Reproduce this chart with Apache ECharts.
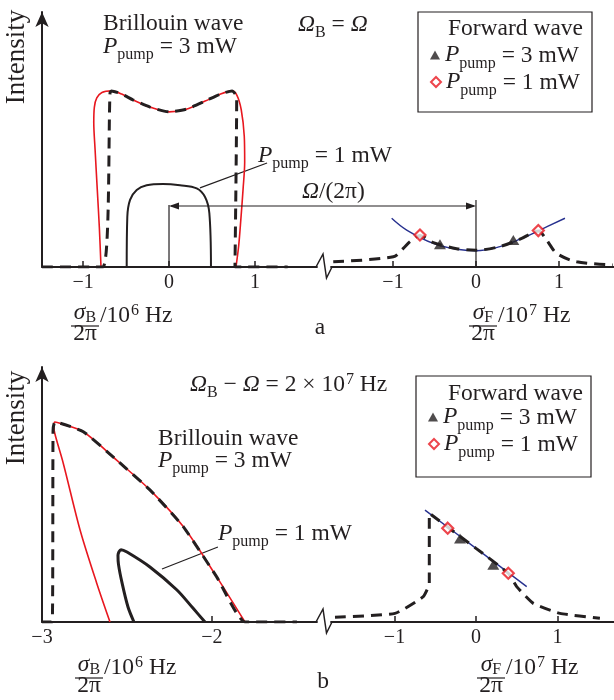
<!DOCTYPE html>
<html><head><meta charset="utf-8">
<script src="https://cdn.jsdelivr.net/npm/echarts@6/dist/echarts.min.js"></script>
<style>html,body{margin:0;padding:0;background:#fff}#c{width:614px;height:700px}</style>
</head><body><div id="c"></div>
<script>
// ===== DATA (panel a: Omega_B = Omega) =====
const aBrilRed3 = [[-0.791,0],[-0.81,1.5],[-0.835,3.0],[-0.86,4.5],[-0.875,5.5],[-0.868,6.1],[-0.84,6.45],[-0.78,6.66],[-0.67,6.72],[-0.55,6.6],[-0.42,6.38],[-0.22,6.1],[0,5.92],[0.2,6.02],[0.42,6.33],[0.6,6.6],[0.733,6.72],[0.79,6.55],[0.84,6.0],[0.875,5.0],[0.88,4.0],[0.862,3.0],[0.835,1.8],[0.81,0.8],[0.779,0]];
const aBrilDash3 = [[-1.477,0],[-0.77,0],[-0.686,6.64],[-0.67,6.72],[-0.55,6.6],[-0.42,6.38],[-0.22,6.1],[0,5.92],[0.2,6.02],[0.42,6.33],[0.6,6.6],[0.733,6.72],[0.787,6.49],[0.767,0],[1.38,0]];
const aBrilOne1 = [[-0.492,0],[-0.485,1.91],[-0.453,2.56],[-0.376,2.94],[-0.26,3.12],[-0.07,3.17],[0.128,3.12],[0.322,3.0],[0.419,2.67],[0.469,2.06],[0.488,0]];
const aFwdFit = [[-1.016,1.86],[-0.835,1.41],[-0.514,0.9],[-0.233,0.676],[0,0.62],[0.289,0.775],[0.53,1.06],[0.771,1.41],[1.072,1.86]];
const aFwdDash = [[-1.72,0.2],[-0.996,0.39],[-0.876,0.71],[-0.795,0.97],[-0.675,1.2],[-0.514,0.93],[-0.233,0.7],[0,0.64],[0.289,0.78],[0.53,1.06],[0.751,1.37],[0.851,1.03],[0.972,0.52],[1.213,0.2],[1.65,0.08]];
const aTri3 = [[-0.434,0.866],[0.45,1.03]];
const aDia1 = [[-0.675,1.22],[0.751,1.39]];
const aRefLeft = [[0,0],[0,2.37]];
const aRefRight = [[0,0],[0,2.56]];
const aLeader = [[0.36,3.02],[1.14,3.97]];
const aArrowY = 2.33;

// ===== DATA (panel b: Omega_B - Omega = 2e7 Hz) =====
const bBrilRed3 = [[-2.6,0],[-2.678,1.48],[-2.776,3.51],[-2.875,6.06],[-2.925,7.2],[-2.93,7.5],[-2.924,7.63],[-2.88,7.55],[-2.757,7.26],[-2.561,6.18],[-2.365,5.04],[-2.169,3.64],[-1.973,1.73],[-1.806,0]];
const bBrilDash3 = [[-3,0],[-2.94,0],[-2.935,7.3],[-2.924,7.63],[-2.757,7.26],[-2.561,6.18],[-2.365,5.04],[-2.169,3.64],[-1.973,1.73],[-1.806,0],[-1.5,0]];
const bBrilOne1 = [[-2.459,0],[-2.494,0.57],[-2.529,1.49],[-2.55,2.2],[-2.553,2.55],[-2.535,2.76],[-2.5,2.67],[-2.365,2.1],[-2.206,1.22],[-2.112,0.53],[-2.041,0]];
const bFwdFit = [[-0.626,4.27],[0,2.81],[0.622,1.35]];
const bFwdDash = [[-1.73,0.18],[-0.994,0.33],[-0.647,0.97],[-0.573,1.48],[-0.573,4.15],[0,2.81],[0.396,1.86],[0.499,1.35],[0.703,0.71],[1.03,0.33],[1.52,0.14]];
const bTri3 = [[-0.196,3.19],[0.212,2.18]];
const bDia1 = [[-0.347,3.58],[0.396,1.86]];
const bLeader = [[-2.294,2.02],[-1.965,2.86]];

// ===== ticks =====
const ticksABril = [-1,0,1];
const ticksAFwd = [-1,0,1];
const ticksBBril = [-3,-2];
const ticksBFwd = [-1,0,1];

// ===== styling =====
const F = "'Liberation Serif','DejaVu Serif','Times New Roman',serif";
const INK = '#231f20', RED = '#e8171f', BLUE = '#27318f';
const FS = 23.5, SS = 16, M = 5;
function richSet(key){
  const base = (extra) => Object.assign({fontFamily:F, fontSize:FS, verticalAlign:'top', padding:[M,0,0,0]}, extra);
  const o = {
    r: base({}),
    i: base({fontStyle:'italic'}),
    s: base({fontSize:SS, padding:[17.25,0,0,0]}),
    s2: base({fontSize:SS, padding:[13.5,0,0,0]}),
    u: base({fontSize:SS, padding:[3.75,0,0,1]})
  };
  for (const k in o) o[k][key] = INK;
  return o;
}
const RE = richSet('color');
const RZ = richSet('fill');

const minusFmt = v => (v < 0 ? '\u2212' + (-v) : String(v));
function xAx(grid, min, max, ticks){
  return {
    type:'value', gridIndex:grid, min, max,
    axisLine:{show:true, onZero:false, lineStyle:{color:INK, width:1.8}},
    axisTick:{show:true, inside:true, length:6, customValues:ticks, lineStyle:{color:INK, width:1.5}},
    axisLabel:{show:true, customValues:ticks, formatter:minusFmt, fontFamily:F, fontSize:20, color:INK, margin:6},
    splitLine:{show:false}
  };
}
function yAx(grid, show){
  return {
    type:'value', gridIndex:grid, min:0, max:9.73, show,
    axisLine:{show:true, onZero:false, symbol:['none','arrow'], symbolSize:[10,15], lineStyle:{color:INK, width:2}},
    axisTick:{show:false}, axisLabel:{show:false}, splitLine:{show:false}
  };
}
function line(data, idx, color, width, type, z, smooth){
  return {type:'line', data, xAxisIndex:idx, yAxisIndex:idx, symbol:'none', smooth:smooth||false,
    lineStyle:{color, width, type:type||'solid', cap:'butt'}, z, silent:true, animation:false};
}
const DASH = [11,7];
function tri(name, data, idx){
  return {type:'scatter', name, data, xAxisIndex:idx, yAxisIndex:idx, symbol:'triangle', symbolSize:[12,10],
    itemStyle:{color:INK}, z:10, animation:false};
}
function dia(name, data, idx){
  return {type:'scatter', name, data, xAxisIndex:idx, yAxisIndex:idx, symbol:'diamond', symbolSize:11,
    itemStyle:{color:'#fff', borderColor:RED, borderWidth:2.2}, z:11, animation:false};
}
const legFmt = n => n === 'P3' ? '{i|P}{s|pump}{r| = 3 mW}' : '{i|P}{s|pump}{r| = 1 mW}';
function leg(name, icon, left, center){
  return {show:true, orient:'vertical', left, top:center - 16.6, padding:0, itemGap:0,
    itemWidth:10, itemHeight: icon === 'triangle' ? 9 : 10, selectedMode:false,
    data:[{name, icon}], formatter:legFmt, textStyle:{rich:RE, color:INK}};
}

const chart = echarts.init(document.getElementById('c'), null, {renderer:'canvas'});
const option = {
  animation:false,
  backgroundColor:'#fff',
  textStyle:{fontFamily:F, color:INK},
  grid:[
    {left:42, top:12, width:275, height:255, outerBoundsMode:'none'},
    {left:331, top:12, width:283, height:255, outerBoundsMode:'none'},
    {left:42, top:367, width:275, height:255, outerBoundsMode:'none'},
    {left:331, top:367, width:283, height:255, outerBoundsMode:'none'}
  ],
  xAxis:[
    xAx(0, -1.477, 1.721, ticksABril),
    xAx(1, -1.747, 1.663, ticksAFwd),
    xAx(2, -3, -1.382, ticksBBril),
    xAx(3, -1.779, 1.693, ticksBFwd)
  ],
  yAxis:[ yAx(0,true), yAx(1,false), yAx(2,true), yAx(3,false) ],
  legend:[
    leg('P3','triangle',430,60), leg('P1','diamond',430,87),
    leg('P3','triangle',428,422), leg('P1','diamond',428,449)
  ],
  series:[
    line(aBrilRed3, 0, RED, 1.6, 'solid', 2, 0.3),
    line(aBrilDash3, 0, INK, 3, DASH, 3, 0.2),
    line(aBrilOne1, 0, INK, 2, 'solid', 3, 0.35),
    line(aRefLeft, 0, INK, 1.2, 'solid', 1),
    line(aLeader, 0, INK, 1.2, 'solid', 1),
    line(aFwdFit, 1, BLUE, 1.4, 'solid', 2, 0.4),
    line(aFwdDash, 1, INK, 3, DASH, 3, 0.3),
    line(aRefRight, 1, INK, 1.2, 'solid', 1),
    tri('P3', aTri3, 1), dia('P1', aDia1, 1),
    line(bBrilRed3, 2, RED, 1.6, 'solid', 2, 0.3),
    line(bBrilDash3, 2, INK, 3, DASH, 3, 0.15),
    line(bBrilOne1, 2, INK, 3, 'solid', 3, 0.3),
    line(bLeader, 2, INK, 1.2, 'solid', 1),
    line(bFwdFit, 3, BLUE, 1.4, 'solid', 2, 0.3),
    line(bFwdDash, 3, INK, 3, DASH, 3, 0.15),
    tri('P3', bTri3, 3), dia('P1', bDia1, 3)
  ]
};
chart.setOption(option);

// ===== annotations (text, arrows, axis break) =====
const px = (g, p) => chart.convertToPixel({gridIndex:g}, p);
const G = [];
function T(x, y, text, align){
  G.push({type:'text', x, y, z:50, style:{text, rich:RZ, fill:INK, align:align||'left', verticalAlign:'top'}});
}
function L(x1,y1,x2,y2,w){ G.push({type:'line', z:40, shape:{x1,y1,x2,y2}, style:{stroke:INK, lineWidth:w||1.2}}); }
function frac(cx, bar, letter, exp){
  T(cx, bar-5-25, '{i|σ}{s2|' + letter + '}', 'center');
  L(cx-14, bar, cx+14, bar, 1.2);
  T(cx, bar+16-25, '{r|2π}', 'center');
  T(cx+15, bar-2-25, '{r|/10}{u|' + exp + '}{r| Hz}');
}
function brk(gl, gr, xmaxL, xminR){
  const p0 = px(gl, [xmaxL, 0]), p1 = px(gr, [xminR, 0]);
  const b = p0[1];
  G.push({type:'polyline', z:40, shape:{points:[[p0[0]-1,b],[p0[0]+6,b-13],[p0[0]+9.5,b+11],[p1[0]+1,b]]},
    style:{stroke:INK, lineWidth:1.5, fill:null}});
}
// panel a
T(103, 7, '{r|Brillouin wave}');
T(103, 30, '{i|P}{s|pump}{r| = 3 mW}');
T(298, 8, '{i|Ω}{s|B}{r| = }{i|Ω}');
T(258, 139, '{i|P}{s|pump}{r| = 1 mW}');
T(302, 175, '{i|Ω}{r|/(2π)}');
T(583, 12, '{r|Forward wave}', 'right');
G.push({type:'rect', z:30, shape:{x:418, y:12, width:174, height:100}, style:{stroke:INK, lineWidth:1.2, fill:null}});
T(320, 311, '{r|a}', 'center');
G.push({type:'text', x:17, y:57, rotation:Math.PI/2, z:50, style:{text:'Intensity', fontFamily:F, fontSize:27, fill:INK, align:'center', verticalAlign:'middle'}});
frac(85, 326, 'B', 6);
frac(483, 326, 'F', 7);
{
  const pL = px(0, [0, aArrowY]), pR = px(1, [0, aArrowY]);
  const y = pL[1];
  L(pL[0]+2, y, pR[0]-2, y, 1.1);
  G.push({type:'polygon', z:41, shape:{points:[[pL[0],y],[pL[0]+10,y-3.5],[pL[0]+10,y+3.5]]}, style:{fill:INK}});
  G.push({type:'polygon', z:41, shape:{points:[[pR[0],y],[pR[0]-10,y-3.5],[pR[0]-10,y+3.5]]}, style:{fill:INK}});
}
brk(0, 1, 1.721, -1.747);
// panel b
T(190, 368, '{i|Ω}{s|B}{r| − }{i|Ω}{r| = 2 × 10}{u|7}{r| Hz}');
T(158, 422, '{r|Brillouin wave}');
T(158, 444, '{i|P}{s|pump}{r| = 3 mW}');
T(218, 517, '{i|P}{s|pump}{r| = 1 mW}');
T(583, 377, '{r|Forward wave}', 'right');
G.push({type:'rect', z:30, shape:{x:416, y:376, width:175, height:101}, style:{stroke:INK, lineWidth:1.2, fill:null}});
T(323, 665, '{r|b}', 'center');
G.push({type:'text', x:17, y:418, rotation:Math.PI/2, z:50, style:{text:'Intensity', fontFamily:F, fontSize:27, fill:INK, align:'center', verticalAlign:'middle'}});
frac(89, 678, 'B', 6);
frac(491, 678, 'F', 7);
brk(2, 3, -1.382, -1.779);

chart.setOption({graphic:{elements:G}});
</script>
</body></html>
